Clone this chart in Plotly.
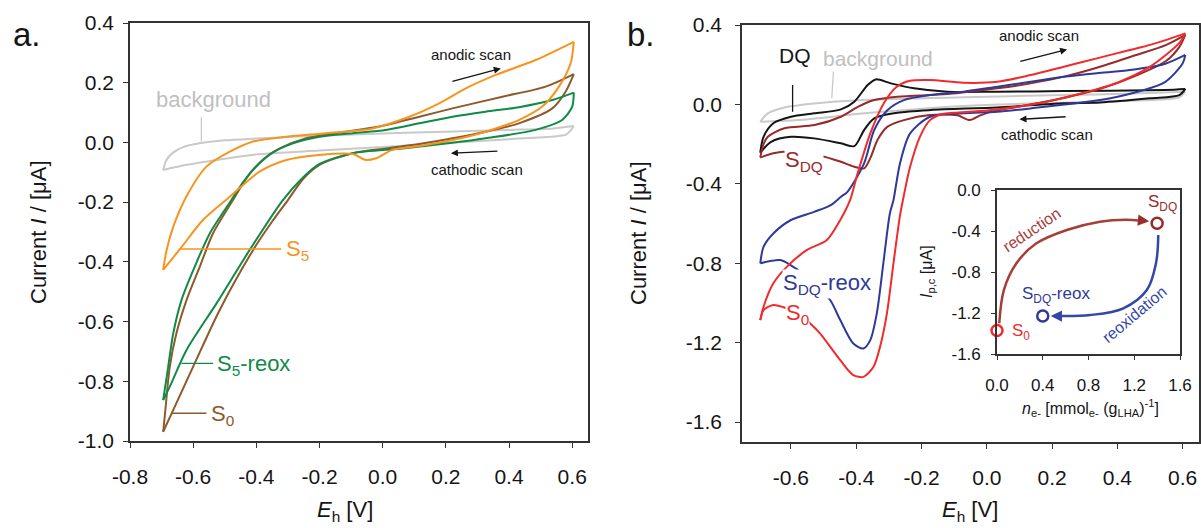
import plotly.graph_objects as go

# ======================= DATA =======================
# ---- Panel a (cyclic voltammograms) : anodic branch (-0.7 -> 0.6) and cathodic branch (0.6 -> -0.7)
a_bg_an_E = [-0.695, -0.685, -0.665, -0.63, -0.58, -0.5, -0.4, -0.3, -0.2, 0.0, 0.2, 0.4, 0.54, 0.605]
a_bg_an_I = [-0.092, -0.06, -0.035, -0.015, -0.003, 0.007, 0.013, 0.018, 0.022, 0.03, 0.036, 0.042, 0.047, 0.055]
a_bg_ca_E = [0.605, 0.595, 0.58, 0.54, 0.4, 0.2, 0.0, -0.2, -0.4, -0.52, -0.62, -0.695]
a_bg_ca_I = [0.055, 0.04, 0.026, 0.02, 0.011, -0.002, -0.015, -0.027, -0.04, -0.058, -0.075, -0.092]

a_S0_an_E = [-0.695, -0.689, -0.674, -0.653, -0.621, -0.579, -0.537, -0.474, -0.442, -0.411, -0.37, -0.326, -0.242, -0.147, -0.011, 0.116, 0.221, 0.379, 0.516, 0.605]
a_S0_an_I = [-0.969, -0.907, -0.751, -0.639, -0.528, -0.416, -0.304, -0.193, -0.137, -0.092, -0.05, -0.02, 0.014, 0.031, 0.053, 0.086, 0.114, 0.153, 0.187, 0.229]
a_S0_ca_E = [0.605, 0.579, 0.537, 0.431, 0.326, 0.221, 0.116, 0.01, -0.095, -0.2, -0.25, -0.3, -0.35, -0.41, -0.516, -0.6, -0.663, -0.695]
a_S0_ca_I = [0.229, 0.17, 0.114, 0.064, 0.036, 0.014, -0.005, -0.02, -0.036, -0.075, -0.12, -0.193, -0.265, -0.36, -0.561, -0.751, -0.896, -0.969]

a_S5r_an_E = [-0.695, -0.679, -0.663, -0.637, -0.595, -0.547, -0.479, -0.44, -0.4, -0.35, -0.284, -0.2, -0.095, 0.01, 0.116, 0.221, 0.326, 0.431, 0.537, 0.605]
a_S5r_an_I = [-0.863, -0.751, -0.639, -0.528, -0.416, -0.304, -0.193, -0.13, -0.08, -0.035, -0.003, 0.019, 0.031, 0.042, 0.064, 0.086, 0.103, 0.118, 0.142, 0.167]
a_S5r_ca_E = [0.605, 0.6, 0.568, 0.484, 0.326, 0.221, 0.063, -0.095, -0.2, -0.25, -0.316, -0.421, -0.526, -0.621, -0.674, -0.695]
a_S5r_ca_I = [0.167, 0.12, 0.075, 0.042, 0.014, -0.001, -0.02, -0.036, -0.072, -0.115, -0.193, -0.36, -0.539, -0.695, -0.818, -0.863]

a_S5_an_E = [-0.695, -0.684, -0.663, -0.621, -0.558, -0.484, -0.41, -0.305, -0.179, -0.032, 0.084, 0.179, 0.263, 0.358, 0.484, 0.605]
a_S5_an_I = [-0.427, -0.36, -0.282, -0.18, -0.081, -0.031, 0.003, 0.019, 0.031, 0.047, 0.086, 0.131, 0.181, 0.226, 0.276, 0.337]
a_S5_ca_E = [0.605, 0.595, 0.558, 0.505, 0.431, 0.326, 0.221, 0.116, 0.031, -0.021, -0.053, -0.095, -0.2, -0.305, -0.39, -0.484, -0.569, -0.64, -0.695]
a_S5_ca_I = [0.337, 0.265, 0.187, 0.12, 0.075, 0.036, 0.008, -0.012, -0.025, -0.053, -0.059, -0.039, -0.042, -0.059, -0.098, -0.182, -0.26, -0.355, -0.427]

# ---- Panel b
b_bg_an_E = [-0.694, -0.671, -0.62, -0.528, -0.375, -0.069, 0.236, 0.45, 0.608]
b_bg_an_I = [-0.087, -0.045, -0.015, 0.005, 0.022, 0.036, 0.047, 0.055, 0.064]
b_bg_ca_E = [0.608, 0.59, 0.5, 0.236, -0.069, -0.375, -0.579, -0.694]
b_bg_ca_I = [0.064, 0.036, 0.022, 0.009, -0.008, -0.045, -0.079, -0.087]

b_DQ_an_E = [-0.694, -0.684, -0.654, -0.6, -0.529, -0.447, -0.406, -0.365, -0.34, -0.294, -0.223, -0.121, 0.032, 0.236, 0.547, 0.608]
b_DQ_an_I = [-0.243, -0.163, -0.095, -0.062, -0.045, -0.025, 0.014, 0.098, 0.126, 0.106, 0.081, 0.064, 0.064, 0.067, 0.073, 0.078]
b_DQ_ca_E = [0.608, 0.59, 0.5, 0.347, 0.236, 0.032, -0.171, -0.274, -0.345, -0.376, -0.406, -0.447, -0.529, -0.6, -0.661, -0.694]
b_DQ_ca_I = [0.078, 0.047, 0.031, 0.01, 0.006, -0.015, -0.028, -0.042, -0.07, -0.129, -0.21, -0.196, -0.171, -0.163, -0.188, -0.243]

b_SDQ_an_E = [-0.694, -0.684, -0.671, -0.62, -0.528, -0.447, -0.395, -0.345, -0.274, -0.12, 0.032, 0.134, 0.236, 0.337, 0.45, 0.55, 0.608]
b_SDQ_an_I = [-0.267, -0.2, -0.163, -0.12, -0.104, -0.062, -0.012, 0.022, 0.039, 0.052, 0.081, 0.106, 0.14, 0.185, 0.245, 0.30, 0.35]
b_SDQ_ca_E = [0.608, 0.59, 0.55, 0.45, 0.35, 0.2, 0.1, 0.032, -0.02, -0.052, -0.09, -0.174, -0.254, -0.304, -0.335, -0.355, -0.376, -0.406, -0.447, -0.498, -0.56, -0.625, -0.654, -0.694]
b_SDQ_ca_I = [0.35, 0.29, 0.22, 0.14, 0.08, 0.02, -0.01, -0.03, -0.055, -0.079, -0.055, -0.053, -0.079, -0.112, -0.179, -0.263, -0.322, -0.314, -0.289, -0.263, -0.25, -0.238, -0.246, -0.267]

b_reox_an_E = [-0.694, -0.684, -0.654, -0.6, -0.529, -0.478, -0.447, -0.427, -0.376, -0.345, -0.304, -0.254, -0.174, -0.072, 0.032, 0.134, 0.236, 0.337, 0.438, 0.547, 0.608]
b_reox_an_I = [-0.80, -0.717, -0.65, -0.582, -0.541, -0.507, -0.465, -0.44, -0.297, -0.129, -0.028, 0.022, 0.047, 0.064, 0.089, 0.114, 0.139, 0.157, 0.173, 0.205, 0.249]
b_reox_ca_E = [0.608, 0.6, 0.547, 0.445, 0.347, 0.134, 0.032, -0.072, -0.174, -0.235, -0.266, -0.286, -0.297, -0.317, -0.337, -0.357, -0.378, -0.409, -0.449, -0.48, -0.54, -0.6, -0.633, -0.694]
b_reox_ca_I = [0.249, 0.207, 0.114, 0.056, 0.022, -0.02, -0.037, -0.045, -0.062, -0.146, -0.297, -0.482, -0.549, -0.8, -1.052, -1.187, -1.229, -1.204, -1.086, -0.985, -0.88, -0.81, -0.784, -0.80]

b_S0_an_E = [-0.694, -0.684, -0.654, -0.613, -0.552, -0.49, -0.449, -0.419, -0.398, -0.357, -0.316, -0.276, -0.235, -0.174, -0.072, 0.032, 0.134, 0.236, 0.337, 0.438, 0.5, 0.55, 0.608]
b_S0_an_I = [-1.086, -1.019, -0.901, -0.818, -0.734, -0.683, -0.582, -0.482, -0.36, -0.146, 0.005, 0.089, 0.119, 0.123, 0.109, 0.114, 0.148, 0.19, 0.232, 0.274, 0.30, 0.325, 0.358]
b_S0_ca_E = [0.608, 0.59, 0.5, 0.4, 0.3, 0.2, 0.1, 0.0, -0.1, -0.136, -0.174, -0.205, -0.235, -0.255, -0.266, -0.286, -0.306, -0.327, -0.347, -0.378, -0.409, -0.449, -0.511, -0.541, -0.58, -0.625, -0.654, -0.684, -0.694]
b_S0_ca_I = [0.358, 0.31, 0.19, 0.11, 0.06, 0.02, -0.01, -0.03, -0.042, -0.048, -0.079, -0.163, -0.314, -0.465, -0.56, -0.8, -1.052, -1.22, -1.321, -1.372, -1.363, -1.288, -1.153, -1.103, -1.05, -1.02, -1.01, -1.036, -1.086]

# ---- Inset: cathodic peak current vs. electrons transferred
inset_names = ["S<sub>0</sub>", "S<sub>DQ</sub>", "S<sub>DQ</sub>-reox"]
inset_n = [0.0, 1.4, 0.4]
inset_Ipc = [-1.37, -0.325, -1.23]
# curved arrows (reduction / reoxidation)
red_path_n = [0.02, 0.06, 0.17, 0.345, 0.61, 0.9, 1.13, 1.24]
red_path_I = [-1.30, -0.976, -0.715, -0.52, -0.39, -0.309, -0.29, -0.297]
reox_path_n = [1.41, 1.39, 1.31, 1.105, 0.814, 0.56]
reox_path_I = [-0.44, -0.715, -0.976, -1.154, -1.22, -1.23]

# ---- tick labels
a_xticks = [-0.8, -0.6, -0.4, -0.2, 0.0, 0.2, 0.4, 0.6]
a_xtext = ["-0.8", "-0.6", "-0.4", "-0.2", "0.0", "0.2", "0.4", "0.6"]
a_yticks = [0.4, 0.2, 0.0, -0.2, -0.4, -0.6, -0.8, -1.0]
a_ytext = ["0.4", "0.2", "0.0", "-0.2", "-0.4", "-0.6", "-0.8", "-1.0"]
b_xticks = [-0.6, -0.4, -0.2, 0.0, 0.2, 0.4, 0.6]
b_xtext = ["-0.6", "-0.4", "-0.2", "0.0", "0.2", "0.4", "0.6"]
b_yticks = [0.4, 0.0, -0.4, -0.8, -1.2, -1.6]
b_ytext = ["0.4", "0.0", "-0.4", "-0.8", "-1.2", "-1.6"]
in_xticks = [0.0, 0.4, 0.8, 1.2, 1.6]
in_xtext = ["0.0", "0.4", "0.8", "1.2", "1.6"]
in_yticks = [0.0, -0.4, -0.8, -1.2, -1.6]
in_ytext = ["0.0", "-0.4", "-0.8", "-1.2", "-1.6"]

# ======================= STYLE =======================
FONT = "Liberation Sans, Arial, sans-serif"
ORANGE = "#f7941d"
BROWN = "#8c5a2b"
GREEN = "#0f8b47"
GRAY = "#c9c9c9"
RED = "#f02b2b"
DARKRED = "#982a2a"
BLUE = "#2e3a98"
BLACK = "#151515"
AXC = "#333333"
W, H = 1201, 528

fig = go.Figure()


def add_cv(an_E, an_I, ca_E, ca_I, color, xa, ya, width=2.0):
    for E, I in ((an_E, an_I), (ca_E, ca_I)):
        fig.add_trace(go.Scatter(x=E, y=I, mode="lines", xaxis=xa, yaxis=ya,
                                 line=dict(color=color, width=width, shape="spline", smoothing=0.8),
                                 hoverinfo="skip"))


def add_seg(xs, ys, color, xa, ya, width=1.3):
    fig.add_trace(go.Scatter(x=xs, y=ys, mode="lines", xaxis=xa, yaxis=ya,
                             line=dict(color=color, width=width), hoverinfo="skip"))


# panel a
add_cv(a_bg_an_E, a_bg_an_I, a_bg_ca_E, a_bg_ca_I, GRAY, "x", "y")
add_cv(a_S0_an_E, a_S0_an_I, a_S0_ca_E, a_S0_ca_I, BROWN, "x", "y")
add_cv(a_S5r_an_E, a_S5r_an_I, a_S5r_ca_E, a_S5r_ca_I, GREEN, "x", "y")
add_cv(a_S5_an_E, a_S5_an_I, a_S5_ca_E, a_S5_ca_I, ORANGE, "x", "y")

# panel b
add_cv(b_bg_an_E, b_bg_an_I, b_bg_ca_E, b_bg_ca_I, GRAY, "x2", "y2")
add_cv(b_DQ_an_E, b_DQ_an_I, b_DQ_ca_E, b_DQ_ca_I, BLACK, "x2", "y2")
add_cv(b_SDQ_an_E, b_SDQ_an_I, b_SDQ_ca_E, b_SDQ_ca_I, DARKRED, "x2", "y2")
add_cv(b_reox_an_E, b_reox_an_I, b_reox_ca_E, b_reox_ca_I, BLUE, "x2", "y2")
add_cv(b_S0_an_E, b_S0_an_I, b_S0_ca_E, b_S0_ca_I, RED, "x2", "y2")

# label connector lines (label positions, not data)
add_seg([-0.574, -0.574], [0.084, 0.003], GRAY, "x", "y")
add_seg([-0.642, -0.321], [-0.357, -0.357], ORANGE, "x", "y")
add_seg([-0.637, -0.537], [-0.74, -0.74], GREEN, "x", "y")
add_seg([-0.668, -0.558], [-0.907, -0.907], BROWN, "x", "y")
add_seg([-0.595, -0.595], [0.098, -0.037], BLACK, "x2", "y2")
add_seg([-0.47, -0.475], [0.165, 0.031], GRAY, "x2", "y2")

# inset arrows' bodies
fig.add_trace(go.Scatter(x=red_path_n, y=red_path_I, mode="lines", xaxis="x3", yaxis="y3",
                         line=dict(color="#a63f3a", width=2.5, shape="spline"), hoverinfo="skip"))
fig.add_trace(go.Scatter(x=reox_path_n, y=reox_path_I, mode="lines", xaxis="x3", yaxis="y3",
                         line=dict(color="#3347a8", width=2.5, shape="spline"), hoverinfo="skip"))
# inset points
inset_colors = [RED, DARKRED, BLUE]
fig.add_trace(go.Scatter(x=inset_n, y=inset_Ipc, mode="markers", xaxis="x3", yaxis="y3",
                         marker=dict(symbol="circle-open", size=11, color=inset_colors,
                                     line=dict(width=2.5, color=inset_colors)),
                         cliponaxis=False, hoverinfo="skip"))

ann = []


def label(x, y, text, color, size, xref="x", yref="y", xanchor="center", yanchor="middle",
          angle=0, bg=None):
    d = dict(x=x, y=y, xref=xref, yref=yref, text=text, showarrow=False, xanchor=xanchor,
             yanchor=yanchor, textangle=angle, font=dict(family=FONT, size=size, color=color))
    if bg:
        d.update(bgcolor=bg, borderpad=0)
    ann.append(d)


def arrow(x0, y0, x1, y1, color, xref, yref, width=1.4, head=2, size=1.0):
    ann.append(dict(x=x1, y=y1, ax=x0, ay=y0, xref=xref, yref=yref, axref=xref, ayref=yref,
                    text="", showarrow=True, arrowhead=head, arrowsize=size, arrowwidth=width,
                    arrowcolor=color, standoff=0, startstandoff=0))


# panel a labels
label(-0.537, 0.145, "background", "#c0c0c0", 22)
label(0.28, 0.295, "anodic scan", BLACK, 15)
label(0.30, -0.089, "cathodic scan", BLACK, 15)
arrow(0.216, 0.203, 0.374, 0.248, BLACK, "x", "y")
arrow(0.368, -0.029, 0.216, -0.036, BLACK, "x", "y")
label(-0.312, -0.36, "S<sub>5</sub>", ORANGE, 22, xanchor="left")
label(-0.53, -0.745, "S<sub>5</sub>-reox", GREEN, 22, xanchor="left")
label(-0.55, -0.912, "S<sub>0</sub>", BROWN, 22, xanchor="left")

# panel b labels
label(-0.588, 0.245, "DQ", BLACK, 21, xref="x2", yref="y2")
label(-0.333, 0.233, "background", "#c0c0c0", 21, xref="x2", yref="y2")
label(0.161, 0.345, "anodic scan", BLACK, 15, xref="x2", yref="y2")
label(0.183, -0.15, "cathodic scan", BLACK, 15, xref="x2", yref="y2")
arrow(0.098, 0.215, 0.246, 0.277, BLACK, "x2", "y2")
arrow(0.246, -0.062, 0.1, -0.075, BLACK, "x2", "y2")
label(-0.56, -0.285, "S<sub>DQ</sub>", DARKRED, 22, xref="x2", yref="y2", bg="white")
label(-0.49, -0.905, "S<sub>DQ</sub>-reox", BLUE, 22, xref="x2", yref="y2", bg="white")
label(-0.58, -1.055, "S<sub>0</sub>", RED, 22, xref="x2", yref="y2", bg="white")

# inset labels
label(1.45, -0.13, "S<sub>DQ</sub>", DARKRED, 17, xref="x3", yref="y3")
label(0.52, -1.02, "S<sub>DQ</sub>-reox", BLUE, 17, xref="x3", yref="y3")
label(0.11, -1.39, "S<sub>0</sub>", RED, 17, xref="x3", yref="y3", xanchor="left")
label(0.31, -0.39, "reduction", "#a8403b", 16, xref="x3", yref="y3", angle=-34)
label(1.20, -1.21, "reoxidation", "#3347a8", 16, xref="x3", yref="y3", angle=-40)
arrow(1.22, -0.293, 1.33, -0.305, "#9b2c2c", "x3", "y3", width=2.5, head=2, size=0.9)
arrow(0.58, -1.23, 0.47, -1.23, "#3347a8", "x3", "y3", width=2.5, head=2, size=0.9)

# axis titles & panel letters (paper coords)
def paper_text(px, py, text, size, angle=0):
    ann.append(dict(x=px / W, y=1 - py / H, xref="paper", yref="paper", text=text, showarrow=False,
                    xanchor="center", yanchor="middle", textangle=angle,
                    font=dict(family=FONT, size=size, color=BLACK)))


paper_text(38, 232, "Current <i>I</i> / [μA]", 22, -90)
paper_text(638, 233, "Current <i>I</i> / [μA]", 22, -90)
paper_text(345, 511, "<i>E</i><sub>h</sub> [V]", 22)
paper_text(970, 511, "<i>E</i><sub>h</sub> [V]", 22)
paper_text(927, 272, "<i>I</i><sub>p,c</sub> [μA]", 16, -90)
paper_text(1090, 408, "<i>n</i><sub>e-</sub> [mmol<sub>e-</sub> (g<sub>LHA</sub>)<sup>-1</sup>]", 16)
paper_text(27, 34, "a.", 33)
paper_text(641, 34, "b.", 33)


def axis(domain, rng, tv, tt, anchor, size=21, standoff=10, ticklen=5):
    return dict(domain=domain, range=rng, tickmode="array", tickvals=tv, ticktext=tt, anchor=anchor,
                ticks="outside", ticklen=ticklen, tickwidth=1.3, tickcolor=AXC,
                showline=True, linecolor=AXC, linewidth=1.6, mirror=True,
                showgrid=False, zeroline=False, ticklabelstandoff=standoff, automargin=False,
                tickfont=dict(family=FONT, size=size, color=BLACK), fixedrange=True)


fig.update_layout(
    width=W, height=H, margin=dict(l=0, r=0, t=0, b=0, pad=0, autoexpand=False),
    paper_bgcolor="white", plot_bgcolor="white", showlegend=False,
    xaxis=axis([130 / W, 588 / W], [-0.8, 0.65], a_xticks, a_xtext, "y", standoff=11),
    yaxis=axis([1 - 441 / H, 1 - 23 / H], [-1.0, 0.4], a_yticks, a_ytext, "x", standoff=5),
    xaxis2=axis([742 / W, 1199 / W], [-0.75, 0.65], b_xticks, b_xtext, "y2", standoff=11),
    yaxis2=axis([1 - 442 / H, 1 - 25 / H], [-1.7, 0.4], b_yticks, b_ytext, "x2", standoff=9),
    xaxis3=axis([997 / W, 1180 / W], [0, 1.6], in_xticks, in_xtext, "y3", size=17, standoff=11, ticklen=4),
    yaxis3=axis([1 - 354 / H, 1 - 190 / H], [-1.6, 0], in_yticks, in_ytext, "x3", size=17, standoff=7, ticklen=4),
    annotations=ann,
)

fig.write_html("out.html")
